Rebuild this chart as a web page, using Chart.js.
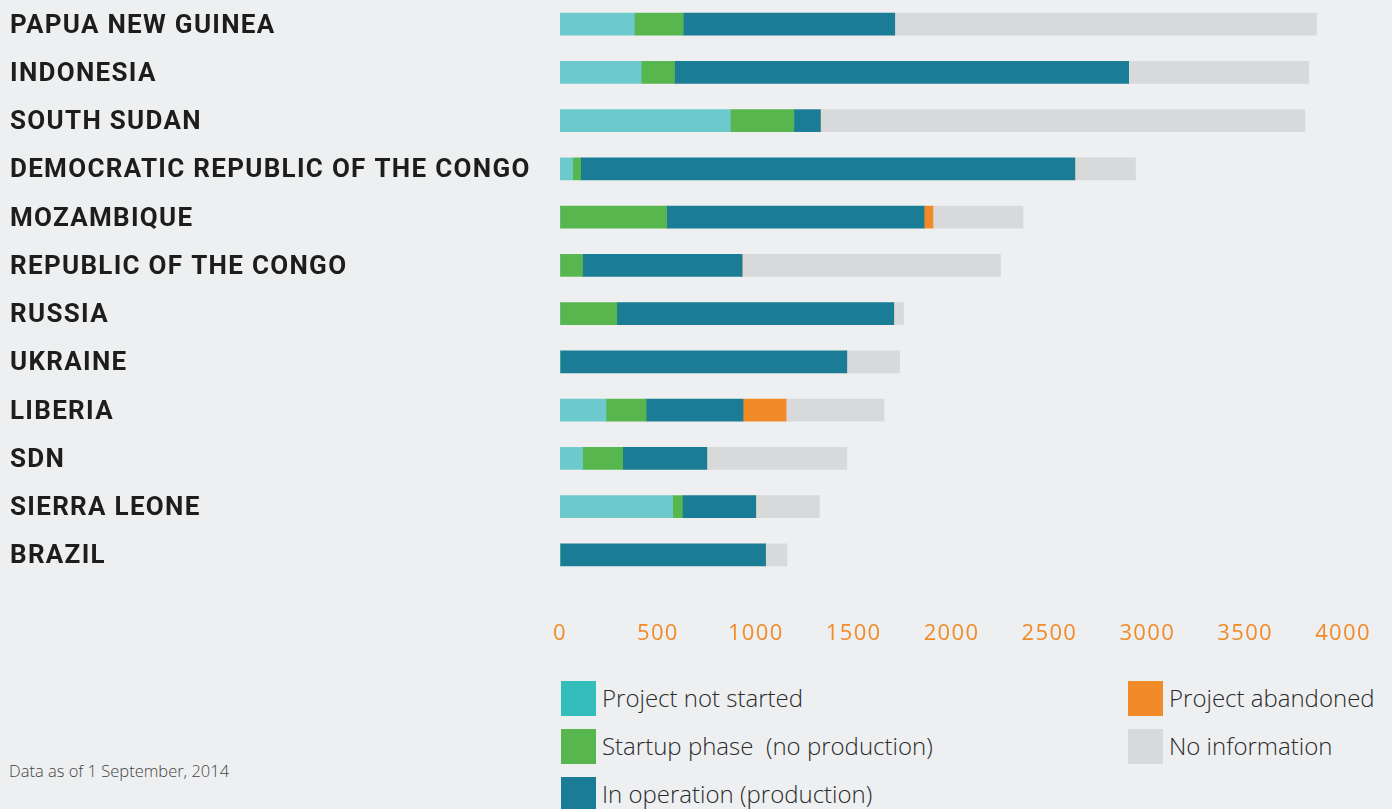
<!DOCTYPE html>
<html>
<head>
<meta charset="utf-8">
<script src="https://cdn.jsdelivr.net/npm/chart.js@4.4.1/dist/chart.umd.min.js"></script>
<style>
  html, body { margin: 0; padding: 0; background: #eeeff1; }
  body { width: 1392px; height: 809px; position: relative; overflow: hidden; font-family: "Open Sans", sans-serif; }
  #chartBox { position: absolute; left: 0; top: 0; width: 1392px; height: 660px; }
  .item { position: absolute; height: 35px; line-height: 35px; font-size: 24px; font-weight: 300; color: #2b2b2b; white-space: pre; }
  .item span.sw { position: absolute; left: 0; top: 0; width: 35px; height: 35px; }
  .item span.tx { position: absolute; left: 41px; top: -1px; }
  #note { position: absolute; left: 9px; top: 759px; font-size: 16.5px; font-weight: 300; color: #444; }
</style>
</head>
<body>
<div id="chartBox"><canvas id="projectChart" width="1392" height="660"></canvas></div>
<div id="legend"></div>
<div id="note">Data as of 1 September, 2014</div>
<script>
/***** DATA *****/
var countries = ['PAPUA NEW GUINEA', 'INDONESIA', 'SOUTH SUDAN', 'DEMOCRATIC REPUBLIC OF THE CONGO',
    'MOZAMBIQUE', 'REPUBLIC OF THE CONGO', 'RUSSIA', 'UKRAINE', 'LIBERIA', 'SDN', 'SIERRA LEONE', 'BRAZIL'];

var notStarted = [380, 415, 870, 65, 0, 0, 0, 0, 235, 115, 575, 0];
var startup    = [250, 170, 325, 40, 545, 115, 290, 0, 205, 205, 50, 0];
var operation  = [1080, 2320, 135, 2525, 1315, 815, 1415, 1465, 495, 430, 375, 1050];
var abandoned  = [0, 0, 0, 0, 45, 0, 0, 0, 220, 0, 0, 0];
var noInfo     = [2155, 920, 2475, 310, 460, 1320, 50, 270, 500, 715, 325, 110];

var xTicks = [0, 500, 1000, 1500, 2000, 2500, 3000, 3500, 4000];

var seriesNames = ['Project not started', 'Startup phase  (no production)', 'In operation (production)',
    'Project abandoned', 'No information'];

/***** COLOURS *****/
var barColors    = ['#6ccacd', '#58b64e', '#1a7d95', '#f18b28', '#d8d9db'];
var legendColors = ['#33bdbb', '#58b64e', '#1a7d95', '#f18b28', '#d8d9db'];

var seriesValues = [notStarted, startup, operation, abandoned, noInfo];

var datasets = seriesValues.map(function (vals, i) {
    return {
        label: seriesNames[i],
        data: vals,
        backgroundColor: barColors[i],
        borderWidth: 0,
        barThickness: 22
    };
});

// letter spacing for the bold country names
var spacingPlugin = {
    id: 'spacing',
    beforeDraw: function (chart) { chart.ctx.letterSpacing = '1.3px'; }
};

var ctx = document.getElementById('projectChart').getContext('2d');
var projectChart = new Chart(ctx, {
    type: 'bar',
    data: { labels: countries, datasets: datasets },
    plugins: [spacingPlugin],
    options: {
        indexAxis: 'y',
        responsive: false,
        animation: false,
        layout: { padding: { left: 10, right: 49, top: 0, bottom: 0 } },
        plugins: { legend: { display: false }, tooltip: { enabled: false } },
        scales: {
            x: {
                stacked: true,
                min: 0,
                max: 4000,
                afterBuildTicks: function (scale) {
                    scale.ticks = xTicks.map(function (v) { return { value: v }; });
                },
                afterFit: function (scale) {
                    scale.height = 81;
                    scale.paddingLeft = 0;
                    scale.paddingRight = 0;
                },
                grid: { display: false, drawTicks: false },
                border: { display: false },
                ticks: {
                    padding: 42,
                    color: '#f18b28',
                    callback: function (v) { return String(v); },
                    font: { family: 'Open Sans', size: 22, weight: 400 }
                }
            },
            y: {
                stacked: true,
                afterFit: function (scale) {
                    scale.width = 550;
                    scale.paddingTop = 0;
                    scale.paddingBottom = 0;
                },
                grid: { display: false, drawTicks: false },
                border: { display: false },
                ticks: {
                    crossAlign: 'far',
                    padding: 0,
                    labelOffset: 2,
                    color: '#1d1d1b',
                    font: { family: 'Roboto', size: 26, weight: 'bold' }
                }
            }
        }
    }
});

/***** LEGEND *****/
var legendPos = [[561, 681], [561, 729], [561, 777], [1128, 681], [1128, 729]];
var legendBox = document.getElementById('legend');
seriesNames.forEach(function (name, i) {
    var d = document.createElement('div');
    d.className = 'item';
    d.style.left = legendPos[i][0] + 'px';
    d.style.top = legendPos[i][1] + 'px';
    d.innerHTML = '<span class="sw" style="background:' + legendColors[i] + '"></span><span class="tx"></span>';
    d.querySelector('.tx').textContent = name;
    legendBox.appendChild(d);
});
</script>
</body>
</html>
